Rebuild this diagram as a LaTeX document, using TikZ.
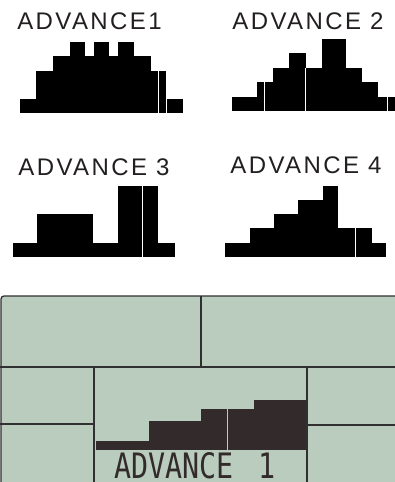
\documentclass[tikz,border=0pt]{standalone}
\usepackage{fontspec}
\setmainfont{Liberation Sans}
\newfontfamily\labelfont[LetterSpace=10]{Liberation Sans}
\newfontfamily\lcdfont{DejaVu Sans Mono}
\definecolor{lcdbg}{HTML}{B9CCBE}
\definecolor{lcdink}{HTML}{332B2B}
\definecolor{lcdline}{HTML}{303030}
\definecolor{labelink}{HTML}{231F20}
\begin{document}
\begin{tikzpicture}[x=1pt,y=-1pt,
  lbl/.style={anchor=base, inner sep=0pt, text=labelink, font=\labelfont\fontsize{24}{24}\selectfont},
  bar/.style={fill=black},
  gapline/.style={draw=white, line width=1pt},
  lcdbar/.style={fill=lcdink},
  lcdgap/.style={draw=lcdbg, line width=1pt},
  lcdframe/.style={draw=lcdline, line width=1.3pt},
  lcdtext/.style={anchor=base west, inner sep=0pt, text=lcdink, font=\lcdfont\fontsize{35}{35}\selectfont}]
\useasboundingbox (0,0) rectangle (395,482);
\fill[white] (0,0) rectangle (395,482);

% labels
\node[lbl] (l1) at (89.5,29) {ADVANCE1};
\node[lbl] (l2) at (308,29) {ADVANCE 2};
\node[lbl] (l3) at (94,175) {ADVANCE 3};
\node[lbl] (l4) at (306,173) {ADVANCE 4};

% chart 1
\fill[bar] (20,99) rectangle (36,113);
\fill[bar] (36,71) rectangle (53,113);
\fill[bar] (53,56) rectangle (70,113);
\fill[bar] (70,42) rectangle (85,113);
\fill[bar] (85,56) rectangle (94,113);
\fill[bar] (94,42) rectangle (109,113);
\fill[bar] (109,56) rectangle (118,113);
\fill[bar] (118,42) rectangle (134,113);
\fill[bar] (134,56) rectangle (151,113);
\fill[bar] (151,71) rectangle (166,113);
\fill[bar] (166,99) rectangle (183,113);
\draw[gapline] (158.5,71) -- (158.5,113);
\draw[gapline] (166.2,71) -- (166.2,113);

% chart 2
\fill[bar] (232,97) rectangle (257,111);
\fill[bar] (257,82) rectangle (273,111);
\fill[bar] (273,68) rectangle (289,111);
\fill[bar] (289,53) rectangle (306,111);
\fill[bar] (306,68) rectangle (322,111);
\fill[bar] (322,39) rectangle (346,111);
\fill[bar] (346,68) rectangle (362,111);
\fill[bar] (362,82) rectangle (378,111);
\fill[bar] (378,97) rectangle (395,111);
\draw[gapline] (264.5,82) -- (264.5,111);
\draw[gapline] (305.5,68) -- (305.5,111);
\draw[gapline] (387,97) -- (387,111);

% chart 3
\fill[bar] (13,243) rectangle (37,257);
\fill[bar] (37,214) rectangle (93,257);
\fill[bar] (93,243) rectangle (118,257);
\fill[bar] (118,186) rectangle (158,257);
\fill[bar] (158,243) rectangle (175,257);
\draw[gapline] (142.5,186) -- (142.5,257);

% chart 4
\fill[bar] (225,243) rectangle (250,257);
\fill[bar] (250,228) rectangle (274,257);
\fill[bar] (274,214) rectangle (298,257);
\fill[bar] (298,200) rectangle (323,257);
\fill[bar] (323,186) rectangle (338,257);
\fill[bar] (338,228) rectangle (372,257);
\fill[bar] (372,243) rectangle (386,257);
\draw[gapline] (355.5,228) -- (355.5,257);

% LCD panel
\begin{scope}
\clip (0,0) rectangle (395,482);
\filldraw[lcdframe, fill=lcdbg, rounded corners=3pt] (1,296) rectangle (400,492);
\draw[lcdframe] (0,367) -- (400,367);
\draw[lcdframe] (201,296) -- (201,367);
\draw[lcdframe] (94,367) -- (94,492);
\draw[lcdframe] (307,367) -- (307,492);
\draw[lcdframe] (0,424) -- (94,424);
\draw[lcdframe] (307,425) -- (400,425);
\fill[lcdbar] (96,441) rectangle (149,450);
\fill[lcdbar] (149,421) rectangle (201,450);
\fill[lcdbar] (201,409) rectangle (254,450);
\fill[lcdbar] (254,400) rectangle (306,450);
\draw[lcdgap] (227.5,409) -- (227.5,450);
\node[lcdtext] (lcd) at (114,478) {\scalebox{0.81}[1]{ADVANCE\kern10pt\ 1}};
\end{scope}
\end{tikzpicture}
\end{document}
